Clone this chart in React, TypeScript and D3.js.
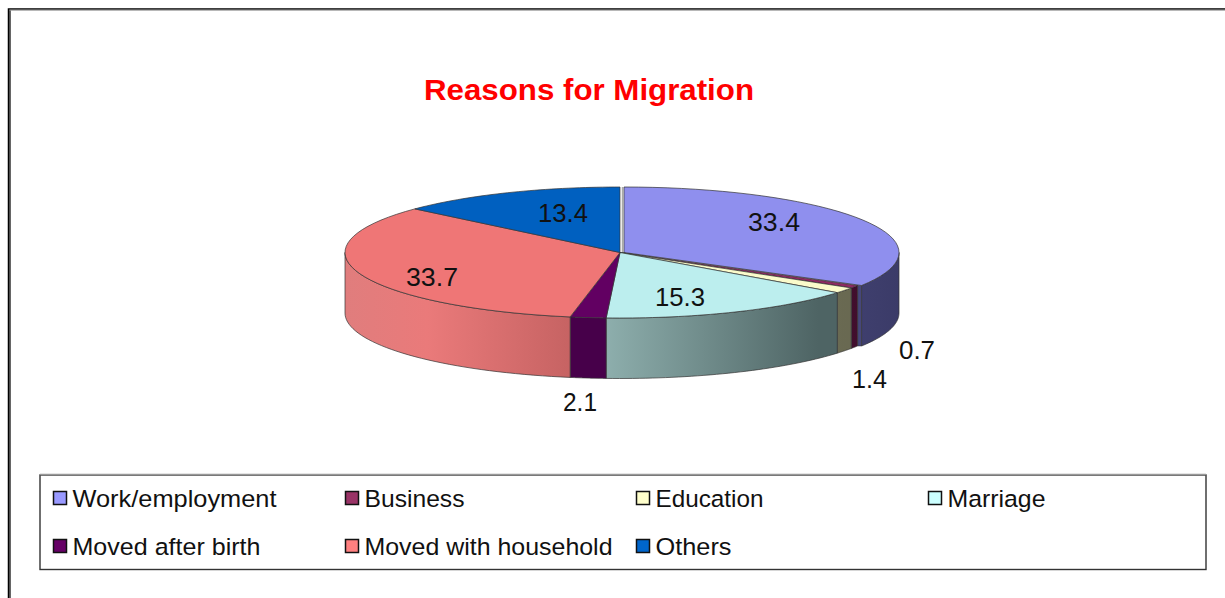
import React from "react";
import * as d3 from "d3";

const categories = ["Work/employment", "Business", "Education", "Marriage", "Moved after birth", "Moved with household", "Others"];
const values = [33.4, 0.7, 1.4, 15.3, 2.1, 33.7, 13.4];
const valueLabels = ["33.4", "0.7", "1.4", "15.3", "2.1", "33.7", "13.4"];
const topColors = ["#8f8fee", "#8e2a62", "#fbfbcb", "#bceeee", "#620062", "#ef7676", "#0060c0"];
const legendColors = ["#9999ff", "#993366", "#ffffcc", "#ccffff", "#660066", "#ff8080", "#0066cc"];
const sideLeft = ["#5a5a96", "#5a1a40", "#7a7a60", "#93b5b3", "#47004a", "#e88080", "#004a90"];
const sideRight = ["#3b3b68", "#3d0c2a", "#66664f", "#4e6464", "#47004a", "#c56262", "#004a90"];
const labelPos: [number, number, number][] = [[774, 231, 52], [917, 359, 36], [869.5, 388, 35], [680, 306, 50], [580, 411, 34], [432, 286, 52], [563, 222, 50]];
const legendTextWidths = [204, 100, 108, 98, 188, 248, 76];

const FONT = "'Liberation Sans', Arial, sans-serif";
const rx = 275, ry = 65.5, cy = 252.5, depth = 60.5;
const CX = 620, CX_WORK = 624;

const pie = d3.pie<number>().sort(null).value(d => d);
const slices = pie(values);
const px = (cx: number, a: number) => cx + rx * Math.sin(a);
const py = (a: number) => cy - ry * Math.cos(a);

function arcPts(cx: number, a0: number, a1: number, dy = 0) {
  const n = 40;
  return d3.range(n + 1).map(i => {
    const a = a0 + (a1 - a0) * (i / n);
    return [px(cx, a), py(a) + dy] as [number, number];
  });
}
const line = d3.line();

export default function App() {
  const legendX = d3.scaleOrdinal<number, number>().domain([0, 1, 2, 3]).range([53, 345, 636, 928]);
  const legendY = d3.scaleOrdinal<number, number>().domain([0, 1]).range([491, 539]);
  const order = slices.map((_, i) => i);
  const cut = slices[0].endAngle;
  const cutFace: [number, number][] = [
    [px(CX_WORK, cut), py(cut)],
    [px(CX, cut), py(cut)],
    [px(CX, cut), py(cut) + depth],
    [px(CX_WORK, cut), py(cut) + depth],
  ];
  return (
    <svg width={1225} height={598} style={{ position: "absolute", left: 0, top: 0, background: "#fff" }}>
      <defs>
        {slices.map((s, i) => {
          const cx = i === 0 ? CX_WORK : CX;
          return (
            <linearGradient key={i} id={`g${i}`} gradientUnits="userSpaceOnUse" x1={cx - rx} x2={cx + rx} y1={0} y2={0}>
              <stop offset="0" stopColor={i === 5 ? "#e07d7d" : sideLeft[i]} />
              <stop offset="0.15" stopColor={i === 5 ? "#ea7a7a" : sideLeft[i]} />
              <stop offset={i === 3 ? "0.44" : "0.42"} stopColor={i === 5 ? sideRight[5] : sideLeft[i]} />
              <stop offset={i === 3 ? "0.86" : "1"} stopColor={sideRight[i]} />
            </linearGradient>
          );
        })}
      </defs>
      <path d="M9.5,598V10" fill="none" stroke="#666" strokeWidth={3} />
      <path d="M8.5,598V9H1225" fill="none" stroke="#000" strokeWidth={1.5} />
      <path d="M9.5,10.2H1225" fill="none" stroke="#999" strokeWidth={1} />
      <text x={589} y={100} textAnchor="middle" fontFamily={FONT} fontWeight="bold" fontSize={30} fill="#ff0000" textLength={330} lengthAdjust="spacingAndGlyphs">Reasons for Migration</text>

      {/* gap behind the pulled-out first slice */}
      <line x1={622.5} x2={622.5} y1={187} y2={252} stroke="#aaa" strokeWidth={1.5} />

      {/* cut face of the pulled-out slice */}
      <path d={line(cutFace)! + "Z"} fill="#46467a" stroke="#333" strokeWidth={0.5} />

      {/* side walls, front half only */}
      {order.map(i => {
        const s = slices[i];
        const cx = i === 0 ? CX_WORK : CX;
        const a0 = Math.max(s.startAngle, Math.PI / 2);
        const a1 = Math.min(s.endAngle, 1.5 * Math.PI);
        if (a1 <= a0) return null;
        const top = arcPts(cx, a0, a1);
        const bottom = arcPts(cx, a0, a1, depth).reverse();
        return <path key={i} d={line([...top, ...bottom])! + "Z"} fill={`url(#g${i})`} stroke="#333" strokeWidth={0.7} />;
      })}

      {/* top faces */}
      {order.map(i => {
        const s = slices[i];
        const cx = i === 0 ? CX_WORK : CX;
        return <path key={i} d={line([[cx, cy], ...arcPts(cx, s.startAngle, s.endAngle)])! + "Z"} fill={topColors[i]} stroke="#333" strokeWidth={0.7} />;
      })}

      {/* value labels */}
      {valueLabels.map((t, i) => (
        <text key={i} x={labelPos[i][0]} y={labelPos[i][1]} textAnchor="middle" fontFamily={FONT} fontSize={26} fill="#111" textLength={labelPos[i][2]} lengthAdjust="spacingAndGlyphs">{t}</text>
      ))}

      {/* legend */}
      <rect x={40} y={475} width={1166} height={94.5} fill="#fff" stroke="#333" strokeWidth={1.4} />
      <line x1={40} x2={1206} y1={474.5} y2={474.5} stroke="#999" strokeWidth={1.5} />
      {categories.map((c, i) => {
        const col = i < 4 ? i : i - 4;
        const row = i < 4 ? 0 : 1;
        const x = legendX(col);
        const y = legendY(row);
        return (
          <g key={c}>
            <rect x={x + 0.5} y={y + 0.5} width={13} height={13} fill={legendColors[i]} stroke="#111" strokeWidth={1.5} />
            <text x={x + 19.5} y={y + 15.5} fontFamily={FONT} fontSize={24.5} fill="#111" textLength={legendTextWidths[i]} lengthAdjust="spacingAndGlyphs">{c}</text>
          </g>
        );
      })}
    </svg>
  );
}
